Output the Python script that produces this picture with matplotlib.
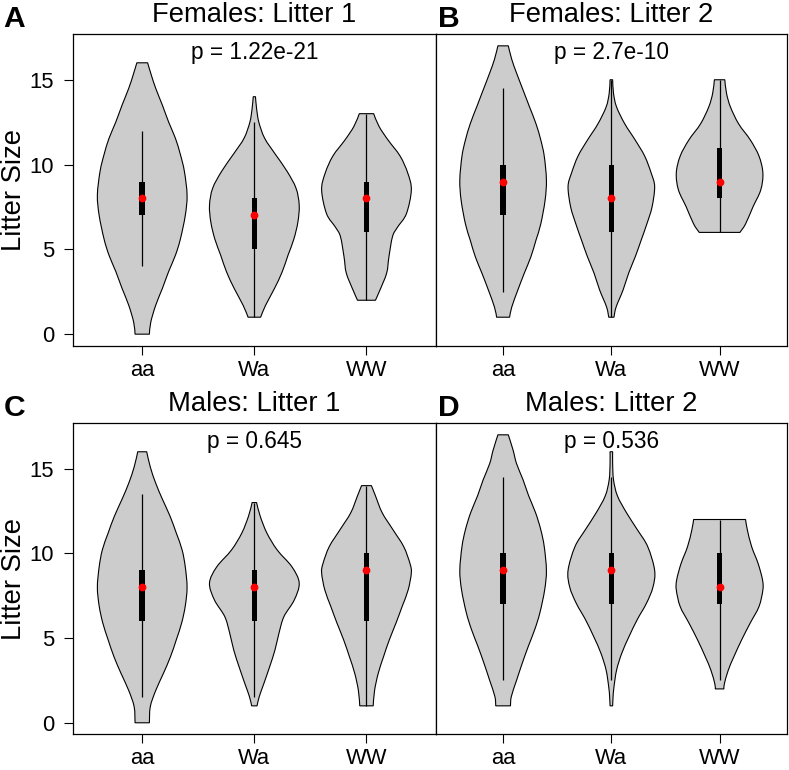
import numpy as np
import matplotlib
matplotlib.use("Agg")
import matplotlib.pyplot as plt
from matplotlib.path import Path
from matplotlib.patches import PathPatch, Rectangle

plt.rcParams['font.family'] = ['Liberation Sans', 'DejaVu Sans']

# ---------------- data ----------------
genotypes = ["aa", "Wa", "WW"]
panel_titles = ["Females: Litter 1", "Females: Litter 2", "Males: Litter 1", "Males: Litter 2"]
panel_letters = ["A", "B", "C", "D"]
p_values = ["p = 1.22e-21", "p = 2.7e-10", "p = 0.645", "p = 0.536"]
y_ticks = [0, 5, 10, 15]

# Relative density profiles (levels of litter size and relative width, max = 1)
# Panel A: Females litter 1
A_aa_y = [0, 0.7, 1.7, 2.7, 3.7, 4.65, 5.6, 7.0, 8.2, 9.6, 10.6, 11.55, 12.5, 13.5, 14.5, 15.3, 16]
A_aa_d = [0.16, 0.19, 0.30, 0.45, 0.59, 0.74, 0.85, 0.96, 1.0, 0.94, 0.85, 0.74, 0.59, 0.45, 0.30, 0.20, 0.12]
A_Wa_y = [1, 1.7, 2.7, 3.67, 4.65, 5.6, 6.6, 7.6, 8.6, 9.6, 10.6, 11.55, 12.5, 13.3, 14]
A_Wa_d = [0.14, 0.25, 0.45, 0.62, 0.75, 0.88, 0.97, 1.0, 0.93, 0.73, 0.47, 0.23, 0.10, 0.05, 0.025]
A_WW_y = [2, 2.6, 3.6, 4.55, 5.75, 6.3, 7.1, 8.5, 9.5, 10.5, 11.45, 12.25, 13]
A_WW_d = [0.20, 0.30, 0.45, 0.50, 0.58, 0.69, 0.89, 1.0, 0.92, 0.75, 0.48, 0.28, 0.16]
# Panel B: Females litter 2
B_aa_y = [1, 1.6, 2.6, 3.6, 4.55, 5.55, 6.5, 7.9, 9.1, 10.5, 11.45, 12.4, 13.4, 14.4, 15.4, 16.2, 17]
B_aa_d = [0.15, 0.20, 0.34, 0.49, 0.64, 0.76, 0.87, 0.97, 1.0, 0.95, 0.87, 0.76, 0.61, 0.46, 0.31, 0.20, 0.12]
B_Wa_y = [1, 1.6, 2.6, 3.6, 4.55, 5.55, 6.5, 7.5, 8.7, 9.5, 10.5, 11.45, 12.4, 13.4, 14.2, 15]
B_Wa_d = [0.06, 0.11, 0.27, 0.40, 0.55, 0.69, 0.82, 0.94, 1.0, 0.92, 0.77, 0.55, 0.31, 0.12, 0.05, 0.03]
B_WW_y = [6, 6.5, 7.5, 8.5, 9.5, 10.5, 11.45, 12.4, 13.4, 14.2, 15]
B_WW_d = [0.47, 0.60, 0.77, 0.95, 1.0, 0.91, 0.71, 0.44, 0.25, 0.16, 0.12]
# Panel C: Males litter 1
C_aa_y = [0, 0.95, 1.9, 2.9, 3.9, 4.9, 5.9, 6.9, 8.0, 9.2, 10.2, 11.2, 12.2, 13.2, 14.15, 15.1, 16]
C_aa_d = [0.16, 0.18, 0.30, 0.47, 0.63, 0.76, 0.88, 0.96, 1.0, 0.96, 0.89, 0.76, 0.62, 0.45, 0.30, 0.18, 0.10]
C_Wa_y = [1, 1.55, 2.3, 3.3, 4.3, 5.3, 6.27, 7.25, 8.25, 9.2, 10.2, 11.2, 12.2, 13]
C_Wa_d = [0.06, 0.11, 0.21, 0.34, 0.46, 0.55, 0.66, 0.89, 1.0, 0.84, 0.51, 0.28, 0.13, 0.05]
C_WW_y = [1, 1.9, 2.9, 3.9, 4.9, 5.9, 6.9, 7.85, 8.85, 9.4, 10.4, 11.4, 12.4, 13.4, 14]
C_WW_d = [0.15, 0.18, 0.26, 0.38, 0.51, 0.66, 0.80, 0.93, 1.0, 0.97, 0.83, 0.59, 0.35, 0.20, 0.11]
# Panel D: Males litter 2
D_aa_y = [1, 1.55, 2.5, 3.5, 4.5, 5.5, 6.5, 7.85, 9.0, 10.4, 11.4, 12.4, 13.4, 14.35, 15.3, 16.1, 17]
D_aa_d = [0.17, 0.19, 0.31, 0.44, 0.58, 0.73, 0.85, 0.96, 1.0, 0.95, 0.87, 0.75, 0.59, 0.46, 0.31, 0.23, 0.12]
D_Wa_y = [1, 1.55, 2.1, 3.1, 4.1, 5.1, 6.1, 7.05, 8.0, 9.0, 10.4, 11.4, 12.4, 13.4, 14.35, 15.3, 16]
D_Wa_d = [0.03, 0.04, 0.06, 0.12, 0.24, 0.41, 0.60, 0.81, 0.96, 1.0, 0.84, 0.60, 0.35, 0.14, 0.05, 0.03, 0.03]
D_WW_y = [2, 2.3, 3.1, 3.9, 4.9, 5.9, 6.86, 7.85, 8.45, 9.4, 10.4, 11.4, 12]
D_WW_d = [0.10, 0.11, 0.20, 0.33, 0.51, 0.71, 0.91, 1.0, 0.99, 0.89, 0.74, 0.64, 0.60]

# Box statistics: q1, median, q3, lower whisker, upper whisker
A_stats = [(7, 8, 9, 4, 12), (5, 7, 8, 1, 12.5), (6, 8, 9, 2, 13)]
B_stats = [(7, 9, 10, 2.5, 14.5), (6, 8, 10, 1, 15), (8, 9, 11, 6, 15)]
C_stats = [(6, 8, 9, 1.5, 13.5), (6, 8, 9, 1.5, 13), (6, 9, 10, 1, 14)]
D_stats = [(7, 9, 10, 2.5, 14.5), (7, 9, 10, 2.5, 14.5), (7, 8, 10, 2.5, 12)]

profiles = [
    [(A_aa_y, A_aa_d), (A_Wa_y, A_Wa_d), (A_WW_y, A_WW_d)],
    [(B_aa_y, B_aa_d), (B_Wa_y, B_Wa_d), (B_WW_y, B_WW_d)],
    [(C_aa_y, C_aa_d), (C_Wa_y, C_Wa_d), (C_WW_y, C_WW_d)],
    [(D_aa_y, D_aa_d), (D_Wa_y, D_Wa_d), (D_WW_y, D_WW_d)],
]
stats = [A_stats, B_stats, C_stats, D_stats]

# ---------------- drawing ----------------
W, H = 789, 770
fig = plt.figure(figsize=(W / 100, H / 100), dpi=100)

def px_rect(l, t, r, b):
    return [l / W, 1 - b / H, (r - l) / W, (b - t) / H]

rects = [px_rect(72.7, 34.3, 436, 345.7), px_rect(436, 34.3, 786.7, 345.7),
         px_rect(72.7, 423.3, 436, 734.3), px_rect(436, 423.3, 786.7, 734.3)]

FILL = "#CCCCCC"
HALF = 0.4   # max half width of violin in x units
BOXW = 0.05


def catmull_path(pts):
    verts, codes = [], []
    n = len(pts)
    for i in range(n - 1):
        p0 = pts[max(i - 1, 0)]
        p1 = pts[i]
        p2 = pts[i + 1]
        p3 = pts[min(i + 2, n - 1)]
        c1 = p1 + (p2 - p0) / 6.0
        c2 = p2 - (p3 - p1) / 6.0
        verts += [c1, c2, p2]
        codes += [Path.CURVE4] * 3
    return verts, codes


def violin(ax, xc, ys, ds):
    ys = np.asarray(ys, float)
    ds = np.asarray(ds, float)
    w = ds / ds.max() * HALF
    left = np.column_stack([xc - w, ys])
    right = np.column_stack([xc + w, ys])[::-1]
    verts = [left[0]]
    codes = [Path.MOVETO]
    v, c = catmull_path(left)
    verts += v; codes += c
    verts.append(right[0]); codes.append(Path.LINETO)
    v, c = catmull_path(right)
    verts += v; codes += c
    verts.append(left[0]); codes.append(Path.CLOSEPOLY)
    patch = PathPatch(Path(np.array(verts), codes), facecolor=FILL,
                      edgecolor="black", lw=0.8, zorder=2)
    ax.add_patch(patch)


for k in range(4):
    ax = fig.add_axes(rects[k])
    positions = np.arange(1, len(genotypes) + 1)
    for j, pos in enumerate(positions):
        ys, ds = profiles[k][j]
        violin(ax, pos, ys, ds)
        q1, med, q3, lo, hi = stats[k][j]
        ax.vlines(pos, lo, hi, color="black", lw=0.9, zorder=3)
        ax.add_patch(Rectangle((pos - BOXW / 2, q1), BOXW, q3 - q1,
                               facecolor="black", edgecolor="none", zorder=4))
        ax.plot([pos], [med], "o", color="red", ms=5.6, mec="none", zorder=5)
    ax.set_xlim(0.38, 3.62)
    ax.set_ylim(-0.68, 17.68)
    ax.set_xticks(positions)
    ax.set_xticklabels(genotypes)
    ax.tick_params(axis="x", length=6.5, width=0.8, pad=3.5, labelsize=15.8)
    if k % 2 == 0:
        ax.set_yticks(y_ticks)
        ax.tick_params(axis="y", length=6.5, width=0.8, pad=7, labelsize=15.8)
        fig.text(14 / W, (rects[k][1] + rects[k][3] / 2), "Litter Size",
                 rotation=90, ha="center", va="center", fontsize=19.8)
    else:
        ax.set_yticks([])
    for s in ax.spines.values():
        s.set_linewidth(0.9)
    # title and panel letter
    top_px = 34.3 if k < 2 else 423.3
    cx = rects[k][0] + rects[k][2] / 2
    fig.text(cx, 1 - (top_px - 12) / H, panel_titles[k], ha="center",
             va="baseline", fontsize=19.7)
    lx = 3.3 if k % 2 == 0 else 438.5
    fig.text(lx / W, 1 - (top_px - 7.6) / H, panel_letters[k], ha="left",
             va="baseline", fontsize=21.6, fontweight="bold")
    fig.text(cx, 1 - (top_px + 25) / H, p_values[k], ha="center",
             va="baseline", fontsize=16.3)

fig.savefig("out.png", dpi=100)
